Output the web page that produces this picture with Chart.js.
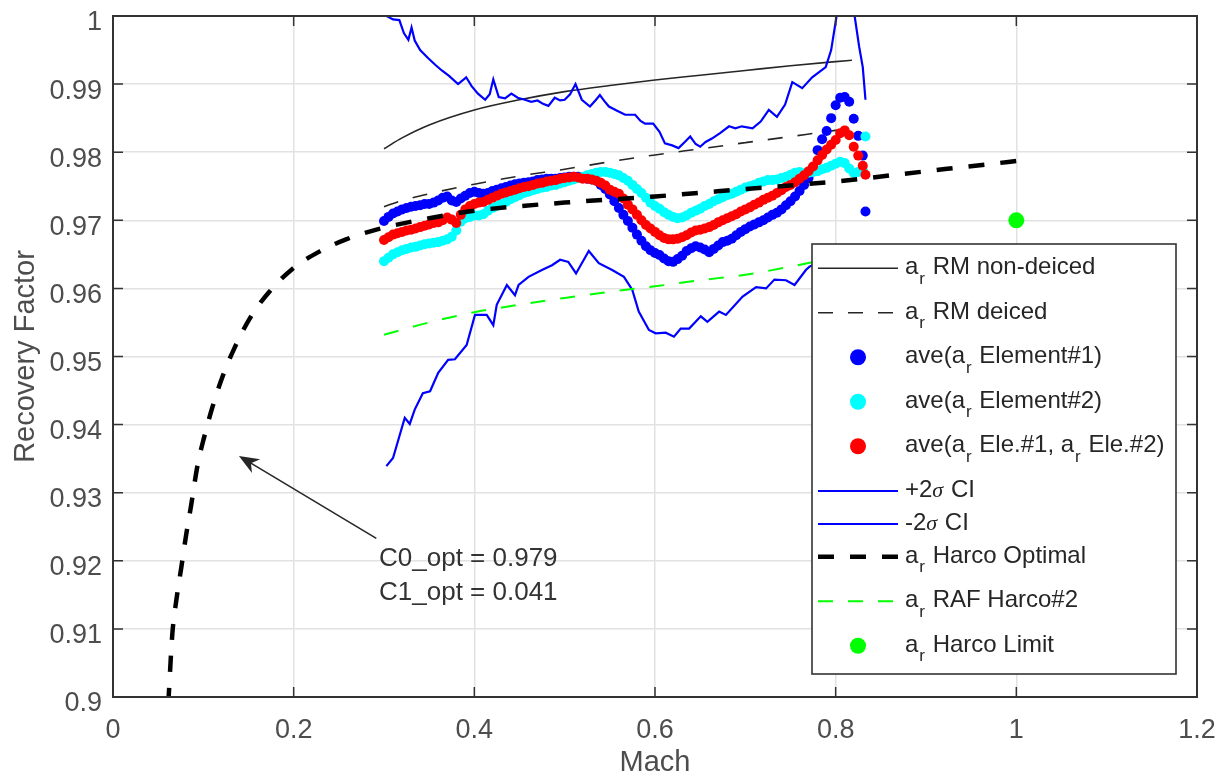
<!DOCTYPE html>
<html>
<head>
<meta charset="utf-8">
<title>Recovery Factor vs Mach</title>
<script src="https://cdn.jsdelivr.net/npm/chart.js@4.4.1/dist/chart.umd.min.js"></script>
<style>
  body { margin: 0; background: #fff; }
  #wrap { width: 1223px; height: 781px; }
</style>
</head>
<body>
<div id="wrap"><canvas id="chart" width="1223" height="781"></canvas></div>
<script>
// RM model curves
const machRm = [0.300, 0.320, 0.350, 0.400, 0.450, 0.500, 0.550, 0.600, 0.650, 0.700, 0.750, 0.800, 0.818];
const rmNonDeiced = [0.9805, 0.9821, 0.9840, 0.9862, 0.9877, 0.9889, 0.9898, 0.9906, 0.9913, 0.9920, 0.9927, 0.9933, 0.9935];
const rmDeiced = [0.9720, 0.9729, 0.9739, 0.9753, 0.9765, 0.9775, 0.9786, 0.9796, 0.9805, 0.9814, 0.9823, 0.9832, 0.9835];

// averaged element readings
const machAve = [
  0.300, 0.305, 0.310, 0.315, 0.320, 0.325, 0.330, 0.335, 0.340, 0.345,
  0.350, 0.355, 0.360, 0.365, 0.370, 0.375, 0.380, 0.385, 0.390, 0.395,
  0.400, 0.405, 0.410, 0.415, 0.420, 0.425, 0.430, 0.435, 0.440, 0.445,
  0.450, 0.455, 0.460, 0.465, 0.470, 0.475, 0.480, 0.485, 0.490, 0.495,
  0.500, 0.505, 0.510, 0.515, 0.520, 0.525, 0.530, 0.535, 0.540, 0.545,
  0.550, 0.555, 0.560, 0.565, 0.570, 0.575, 0.580, 0.585, 0.590, 0.595,
  0.600, 0.605, 0.610, 0.615, 0.620, 0.625, 0.630, 0.635, 0.640, 0.645,
  0.650, 0.655, 0.660, 0.665, 0.670, 0.675, 0.680, 0.685, 0.690, 0.695,
  0.700, 0.705, 0.710, 0.715, 0.720, 0.725, 0.730, 0.735, 0.740, 0.745,
  0.750, 0.755, 0.760, 0.765, 0.770, 0.775, 0.780, 0.785, 0.790, 0.795,
  0.800, 0.805, 0.810, 0.815, 0.820, 0.825, 0.830, 0.833
];
const aveElement1 = [
  0.9699, 0.9705, 0.9710, 0.9713, 0.9716, 0.9718, 0.9720, 0.9721, 0.9722, 0.9724,
  0.9724, 0.9726, 0.9729, 0.9733, 0.9735, 0.9729, 0.9727, 0.9732, 0.9736, 0.9740,
  0.9742, 0.9740, 0.9739, 0.9740, 0.9743, 0.9745, 0.9747, 0.9749, 0.9751, 0.9753,
  0.9754, 0.9755, 0.9756, 0.9757, 0.9759, 0.9760, 0.9761, 0.9761, 0.9761, 0.9762,
  0.9763, 0.9764, 0.9764, 0.9764, 0.9763, 0.9761, 0.9760, 0.9758, 0.9752, 0.9746,
  0.9738, 0.9728, 0.9718, 0.9708, 0.9699, 0.9689, 0.9679, 0.9670, 0.9662, 0.9656,
  0.9652, 0.9649, 0.9644, 0.9640, 0.9639, 0.9643, 0.9648, 0.9655, 0.9659, 0.9662,
  0.9660, 0.9657, 0.9653, 0.9658, 0.9663, 0.9668, 0.9670, 0.9673, 0.9678, 0.9683,
  0.9687, 0.9691, 0.9694, 0.9697, 0.9700, 0.9704, 0.9708, 0.9711, 0.9716, 0.9722,
  0.9728, 0.9735, 0.9743, 0.9752, 0.9762, 0.9778, 0.9803, 0.9819, 0.9831, 0.9850,
  0.9869, 0.9880, 0.9881, 0.9874, 0.9849, 0.9824, 0.9795, 0.9713
];
const aveElement2 = [
  0.9640, 0.9645, 0.9650, 0.9653, 0.9656, 0.9658, 0.9660, 0.9661, 0.9663, 0.9665,
  0.9666, 0.9667, 0.9668, 0.9670, 0.9672, 0.9676, 0.9685, 0.9698, 0.9703, 0.9705,
  0.9707, 0.9707, 0.9709, 0.9714, 0.9718, 0.9721, 0.9724, 0.9727, 0.9731, 0.9734,
  0.9737, 0.9740, 0.9742, 0.9744, 0.9746, 0.9748, 0.9749, 0.9751, 0.9752, 0.9754,
  0.9756, 0.9758, 0.9760, 0.9762, 0.9764, 0.9766, 0.9768, 0.9770, 0.9771, 0.9771,
  0.9770, 0.9768, 0.9766, 0.9762, 0.9758, 0.9752, 0.9746, 0.9740, 0.9733, 0.9726,
  0.9721, 0.9717, 0.9712, 0.9708, 0.9705, 0.9703, 0.9704, 0.9707, 0.9711, 0.9714,
  0.9717, 0.9721, 0.9724, 0.9728, 0.9731, 0.9734, 0.9737, 0.9739, 0.9742, 0.9745,
  0.9748, 0.9750, 0.9752, 0.9755, 0.9757, 0.9759, 0.9759, 0.9760, 0.9762, 0.9764,
  0.9767, 0.9770, 0.9771, 0.9769, 0.9770, 0.9771, 0.9772, 0.9775, 0.9777, 0.9780,
  0.9783, 0.9786, 0.9784, 0.9776, 0.9770, 0.9771, 0.9774, 0.9823
];
const aveBoth = [
  0.9671, 0.9675, 0.9679, 0.9681, 0.9683, 0.9685, 0.9686, 0.9688, 0.9690, 0.9692,
  0.9694, 0.9696, 0.9697, 0.9700, 0.9704, 0.9701, 0.9696, 0.9708, 0.9716, 0.9721,
  0.9724, 0.9726, 0.9727, 0.9730, 0.9733, 0.9736, 0.9739, 0.9741, 0.9743, 0.9745,
  0.9747, 0.9749, 0.9750, 0.9752, 0.9754, 0.9755, 0.9757, 0.9758, 0.9759, 0.9761,
  0.9762, 0.9763, 0.9764, 0.9763, 0.9761, 0.9761, 0.9760, 0.9758, 0.9755, 0.9751,
  0.9745, 0.9742, 0.9739, 0.9732, 0.9723, 0.9716, 0.9708, 0.9700, 0.9693, 0.9688,
  0.9683, 0.9678, 0.9674, 0.9672, 0.9672, 0.9673, 0.9675, 0.9678, 0.9682, 0.9685,
  0.9686, 0.9688, 0.9690, 0.9693, 0.9697, 0.9700, 0.9703, 0.9706, 0.9709, 0.9713,
  0.9716, 0.9719, 0.9723, 0.9726, 0.9730, 0.9733, 0.9736, 0.9740, 0.9744, 0.9749,
  0.9752, 0.9756, 0.9761, 0.9766, 0.9772, 0.9779, 0.9788, 0.9796, 0.9804, 0.9811,
  0.9818, 0.9828, 0.9832, 0.9825, 0.9808, 0.9795, 0.9780, 0.9767
];

// confidence bounds
const machUpper = [
  0.300, 0.303, 0.310, 0.317, 0.322, 0.327, 0.3305, 0.334, 0.340, 0.349,
  0.357, 0.364, 0.372, 0.382, 0.391, 0.397, 0.404, 0.412, 0.417, 0.421,
  0.427, 0.434, 0.441, 0.448, 0.456, 0.463, 0.470, 0.476, 0.482, 0.489,
  0.495, 0.500, 0.506, 0.512, 0.519, 0.528, 0.534, 0.539, 0.544, 0.549,
  0.558, 0.567, 0.578, 0.584, 0.589, 0.598, 0.605, 0.611, 0.619, 0.626,
  0.633, 0.639, 0.645, 0.650, 0.656, 0.663, 0.672, 0.682, 0.689, 0.696,
  0.708, 0.717, 0.726, 0.735, 0.744, 0.752, 0.763, 0.774, 0.782, 0.789,
  0.795, 0.801, 0.810, 0.821, 0.826, 0.830, 0.833
];
const upperCI = [
  1.0040, 1.0000, 0.9995, 0.9994, 0.9975, 0.9965, 0.9983, 0.9964, 0.9950, 0.9938,
  0.9928, 0.9920, 0.9912, 0.9900, 0.9910, 0.9897, 0.9886, 0.9877, 0.9885, 0.9907,
  0.9881, 0.9879, 0.9886, 0.9880, 0.9877, 0.9874, 0.9876, 0.9871, 0.9868, 0.9880,
  0.9876, 0.9877, 0.9885, 0.9900, 0.9877, 0.9867, 0.9876, 0.9884, 0.9875, 0.9867,
  0.9861, 0.9855, 0.9855, 0.9846, 0.9842, 0.9842, 0.9830, 0.9813, 0.9810, 0.9806,
  0.9815, 0.9823, 0.9812, 0.9808, 0.9815, 0.9820, 0.9828, 0.9838, 0.9835, 0.9838,
  0.9835, 0.9845, 0.9862, 0.9852, 0.9870, 0.9903, 0.9894, 0.9910, 0.9918, 0.9925,
  0.9950, 1.0000, 1.0080, 1.0000, 0.9955, 0.9925, 0.9877
];
const machLower = [
  0.3026, 0.310, 0.323, 0.3285, 0.334, 0.343, 0.351, 0.360, 0.371, 0.3785,
  0.3915, 0.4007, 0.4137, 0.421, 0.4248, 0.436, 0.445, 0.449, 0.460, 0.4748,
  0.486, 0.495, 0.504, 0.5126, 0.5267, 0.5378, 0.5526, 0.5656, 0.5748, 0.582,
  0.5933, 0.6007, 0.6119, 0.621, 0.6285, 0.6378, 0.6507, 0.658, 0.671, 0.6785,
  0.697, 0.7119, 0.723, 0.7322, 0.745, 0.7545, 0.767, 0.771, 0.778
];
const lowerCI = [
  0.9339, 0.9351, 0.9410, 0.9401, 0.9422, 0.9446, 0.9449, 0.9476, 0.9495, 0.9496,
  0.9517, 0.9561, 0.9561, 0.9546, 0.9576, 0.9605, 0.9590, 0.9605, 0.9617, 0.9627,
  0.9634, 0.9642, 0.9639, 0.9622, 0.9655, 0.9637, 0.9627, 0.9617, 0.9598, 0.9566,
  0.9539, 0.9534, 0.9535, 0.9529, 0.9541, 0.9541, 0.9559, 0.9551, 0.9566, 0.9561,
  0.9588, 0.9602, 0.9600, 0.9613, 0.9612, 0.9605, 0.9627, 0.9632, 0.9636
];

// Harco curves
const machHarco = [
  0.0612, 0.0657, 0.0701, 0.0757, 0.0812, 0.0863, 0.0937, 0.1012, 0.1104, 0.1214,
  0.1343, 0.1528, 0.1731, 0.1989, 0.2284, 0.2580, 0.2935, 0.350, 0.400, 0.500,
  0.600, 0.700, 0.800, 0.900, 1.000
];
const harcoOptimal = [
  0.8990, 0.9093, 0.9142, 0.9191, 0.9240, 0.9280, 0.9341, 0.9383, 0.9427, 0.9471,
  0.9512, 0.9559, 0.9595, 0.9629, 0.9654, 0.9672, 0.9687, 0.9703, 0.9714, 0.9726,
  0.9735, 0.9746, 0.9757, 0.9772, 0.9787
];
const machRaf = [0.300, 0.350, 0.400, 0.450, 0.500, 0.550, 0.600, 0.650, 0.700, 0.750, 0.780];
const rafHarco2 = [0.9532, 0.9550, 0.9565, 0.9576, 0.9586, 0.9595, 0.9603, 0.9612, 0.9620, 0.9632, 0.9640];
const machLimit = [1.0];
const harcoLimit = [0.970];

// axes
const xTicks = [0, 0.2, 0.4, 0.6, 0.8, 1, 1.2];
const xTickLabels = ['0', '0.2', '0.4', '0.6', '0.8', '1', '1.2'];
const yTicks = [0.9, 0.91, 0.92, 0.93, 0.94, 0.95, 0.96, 0.97, 0.98, 0.99, 1];
const yTickLabels = ['0.9', '0.91', '0.92', '0.93', '0.94', '0.95', '0.96', '0.97', '0.98', '0.99', '1'];

// fit annotation
const noteLines = ['C0_opt = 0.979', 'C1_opt = 0.041'];
const arrowTail = [0.2915, 0.9233];
const arrowHead = [0.1394, 0.9354];
const notePos = [0.2945, 0.9203];

const FONT = '"Liberation Sans", Arial, Helvetica, sans-serif';
const AXIS_COLOR = '#333';

const pts = (xs, ys) => xs.map((x, i) => ({ x: x, y: ys[i] }));

function lineSet(label, xs, ys, color, width, dash, smooth) {
  return {
    label: label,
    data: pts(xs, ys),
    showLine: true,
    borderColor: color,
    backgroundColor: color,
    borderWidth: width,
    borderDash: dash || [],
    pointRadius: 0,
    tension: 0,
    cubicInterpolationMode: smooth ? 'monotone' : 'default',
    fill: false
  };
}

function dotSet(label, xs, ys, color, radius) {
  return {
    label: label,
    data: pts(xs, ys),
    showLine: false,
    pointRadius: radius,
    pointBackgroundColor: color,
    pointBorderWidth: 0,
    backgroundColor: color,
    borderColor: color
  };
}

const datasets = [
  lineSet('a_r RM non-deiced', machRm, rmNonDeiced, '#262626', 1.6, null, true),
  lineSet('a_r RM deiced', machRm, rmDeiced, '#262626', 1.6, [15, 15], true),
  dotSet('ave(a_r Element#1)', machAve, aveElement1, '#0000ff', 5),
  dotSet('ave(a_r Element#2)', machAve, aveElement2, '#00ffff', 5),
  dotSet('ave(a_r Ele.#1, a_r Ele.#2)', machAve, aveBoth, '#ff0000', 5),
  lineSet('+2σ CI', machUpper, upperCI, '#0000ff', 2.2, null, false),
  lineSet('-2σ CI', machLower, lowerCI, '#0000ff', 2.2, null, false),
  lineSet('a_r Harco Optimal', machHarco, harcoOptimal, '#000000', 4.5, [16, 16], true),
  lineSet('a_r RAF Harco#2', machRaf, rafHarco2, '#00ff00', 2, [15, 15], true),
  dotSet('a_r Harco Limit', machLimit, harcoLimit, '#00ff00', 8)
];
// later series sit on top
datasets.forEach((ds, i) => { ds.order = datasets.length - i; });

// text with "_r" as a subscript r and an italic sigma
function drawRich(ctx, text, x, y, size) {
  text.split(/(_r|σ)/).forEach(part => {
    if (!part) return;
    if (part === '_r') {
      ctx.font = Math.round(size * 0.7) + 'px ' + FONT;
      ctx.fillText('r', x + 1, y + size * 0.4);
      x += ctx.measureText('r').width + 2;
    } else if (part === 'σ') {
      ctx.font = 'italic ' + Math.round(size * 0.9) + 'px "Liberation Serif", serif';
      ctx.fillText('σ', x, y);
      x += ctx.measureText('σ').width + 1;
    } else {
      ctx.font = size + 'px ' + FONT;
      ctx.fillText(part, x, y);
      x += ctx.measureText(part).width;
    }
  });
}

// box around the axes with inward tick marks on all four sides
const axesBox = {
  id: 'axesBox',
  afterDatasetsDraw(chart) {
    const { ctx, chartArea: a, scales } = chart;
    const len = 10;
    ctx.save();
    ctx.strokeStyle = AXIS_COLOR;
    ctx.lineWidth = 1.5;
    ctx.beginPath();
    xTicks.forEach(v => {
      const px = scales.x.getPixelForValue(v);
      ctx.moveTo(px, a.bottom); ctx.lineTo(px, a.bottom - len);
      ctx.moveTo(px, a.top); ctx.lineTo(px, a.top + len);
    });
    yTicks.forEach(v => {
      const py = scales.y.getPixelForValue(v);
      ctx.moveTo(a.left, py); ctx.lineTo(a.left + len, py);
      ctx.moveTo(a.right, py); ctx.lineTo(a.right - len, py);
    });
    ctx.stroke();
    ctx.lineWidth = 2;
    ctx.strokeRect(a.left, a.top, a.right - a.left, a.bottom - a.top);
    ctx.restore();
  }
};

// arrow and fitted constants
const fitNote = {
  id: 'fitNote',
  afterDatasetsDraw(chart) {
    const { ctx, scales } = chart;
    const tx = scales.x.getPixelForValue(arrowTail[0]);
    const ty = scales.y.getPixelForValue(arrowTail[1]);
    const hx = scales.x.getPixelForValue(arrowHead[0]);
    const hy = scales.y.getPixelForValue(arrowHead[1]);
    const ang = Math.atan2(hy - ty, hx - tx);
    ctx.save();
    ctx.strokeStyle = '#262626';
    ctx.fillStyle = '#262626';
    ctx.lineWidth = 1.6;
    ctx.beginPath();
    ctx.moveTo(tx, ty);
    ctx.lineTo(hx - 12 * Math.cos(ang), hy - 12 * Math.sin(ang));
    ctx.stroke();
    // concave arrow head
    ctx.translate(hx, hy);
    ctx.rotate(ang);
    ctx.beginPath();
    ctx.moveTo(0, 0);
    ctx.lineTo(-20, -8);
    ctx.lineTo(-14, 0);
    ctx.lineTo(-20, 8);
    ctx.closePath();
    ctx.fill();
    ctx.restore();

    ctx.save();
    ctx.fillStyle = '#333';
    ctx.font = '26px ' + FONT;
    ctx.textBaseline = 'middle';
    const nx = scales.x.getPixelForValue(notePos[0]);
    const ny = scales.y.getPixelForValue(notePos[1]);
    noteLines.forEach((t, i) => ctx.fillText(t, nx, ny + i * 34));
    ctx.restore();
  }
};

// legend box inside the lower right of the axes
const boxLegend = {
  id: 'boxLegend',
  afterDraw(chart) {
    const { ctx, chartArea: a } = chart;
    const w = 364, h = 430;
    const x0 = a.right - 21 - w;
    const y0 = a.bottom - 23 - h;
    ctx.save();
    ctx.fillStyle = '#fff';
    ctx.fillRect(x0, y0, w, h);
    ctx.strokeStyle = AXIS_COLOR;
    ctx.lineWidth = 1.6;
    ctx.strokeRect(x0, y0, w, h);

    let top = y0 + 6;
    chart.data.datasets.forEach(ds => {
      const sub = ds.label.indexOf('_r') >= 0;
      const rowH = sub ? 44.5 : 33;
      const cy = top + rowH / 2 - (sub ? 6 : 0);
      const sy = cy + 2;
      if (ds.showLine) {
        ctx.beginPath();
        ctx.setLineDash(ds.borderDash);
        ctx.strokeStyle = ds.borderColor;
        ctx.lineWidth = ds.borderWidth;
        ctx.moveTo(x0 + 6, sy);
        ctx.lineTo(x0 + 86, sy);
        ctx.stroke();
        ctx.setLineDash([]);
      } else {
        ctx.beginPath();
        ctx.fillStyle = ds.pointBackgroundColor;
        ctx.arc(x0 + 46, sy, 8, 0, Math.PI * 2);
        ctx.fill();
      }
      ctx.fillStyle = '#262626';
      ctx.textBaseline = 'alphabetic';
      drawRich(ctx, ds.label, x0 + 93, cy + 8, 24);
      top += rowH;
    });
    ctx.restore();
  }
};

const ctx = document.getElementById('chart').getContext('2d');
const chart = new Chart(ctx, {
  type: 'scatter',
  data: { datasets: datasets },
  options: {
    responsive: false,
    animation: false,
    events: [],
    layout: { padding: { left: 0, top: 16, right: 26, bottom: 0 } },
    plugins: {
      legend: { display: false },
      tooltip: { enabled: false }
    },
    scales: {
      x: {
        type: 'linear',
        min: 0,
        max: 1.2,
        afterBuildTicks: axis => { axis.ticks = xTicks.map(v => ({ value: v })); },
        afterFit: axis => {
          axis.height = 84;
          axis.paddingLeft = 0;
          axis.paddingRight = 0;
        },
        grid: { color: '#e2e2e2', lineWidth: 1.5, drawTicks: false },
        border: { display: false },
        ticks: {
          autoSkip: false,
          maxRotation: 0,
          padding: 17,
          color: '#4d4d4d',
          font: { family: FONT, size: 27 },
          callback: (v, i) => xTickLabels[i]
        },
        title: {
          display: true,
          text: 'Mach',
          color: '#4d4d4d',
          font: { family: FONT, size: 29 },
          padding: { top: 0, bottom: 1 }
        }
      },
      y: {
        type: 'linear',
        min: 0.9,
        max: 1,
        afterBuildTicks: axis => { axis.ticks = yTicks.map(v => ({ value: v })); },
        afterFit: axis => {
          axis.width = 113;
          axis.paddingTop = 0;
          axis.paddingBottom = 0;
        },
        grid: { color: '#e2e2e2', lineWidth: 1.5, drawTicks: false },
        border: { display: false },
        ticks: {
          autoSkip: false,
          padding: 11,
          labelOffset: 7,
          color: '#4d4d4d',
          font: { family: FONT, size: 27 },
          callback: (v, i) => yTickLabels[i]
        },
        title: {
          display: true,
          text: 'Recovery Factor',
          color: '#4d4d4d',
          font: { family: FONT, size: 29 },
          padding: { top: 9, bottom: 0 }
        }
      }
    }
  },
  plugins: [axesBox, fitNote, boxLegend]
});
</script>
</body>
</html>
